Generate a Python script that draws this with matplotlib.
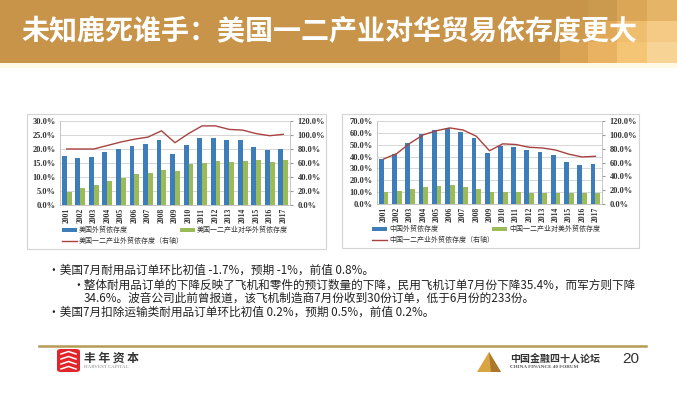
import matplotlib
matplotlib.use("Agg")
import matplotlib.pyplot as plt
from matplotlib.patches import Rectangle, FancyBboxPatch, Polygon
from matplotlib.lines import Line2D

# ---------------- data ----------------
years = ['2001', '2002', '2003', '2004', '2005', '2006', '2007', '2008', '2009',
         '2010', '2011', '2012', '2013', '2014', '2015', '2016', '2017']

us_trade = [17.6, 16.9, 17.3, 18.8, 19.9, 21.1, 21.7, 23.3, 18.2, 21.5, 24.0,
            23.9, 23.3, 23.1, 20.8, 19.6, 20.1]
us_ind_china = [4.8, 6.1, 7.1, 8.5, 9.8, 10.9, 11.6, 12.5, 12.1, 14.6, 15.0,
                15.6, 15.5, 15.8, 16.0, 15.5, 16.2]
us_ind_trade = [80, 80, 80, 85, 90, 94, 97, 106, 89, 102, 113, 113, 108, 107,
                102, 99, 101]

cn_trade = [38.0, 42.5, 51.5, 59.0, 62.5, 64.0, 61.0, 55.5, 43.0, 48.5, 48.0,
            45.5, 43.5, 41.0, 35.5, 32.5, 33.5]
cn_ind_us = [10.0, 11.0, 12.5, 14.0, 15.5, 16.0, 14.5, 12.5, 10.0, 10.5, 10.0,
             9.5, 9.5, 9.5, 9.5, 9.0, 9.5]
cn_ind_trade = [65, 73, 88, 100, 106, 110, 107, 98, 77, 87, 86, 82, 81, 78, 72,
                68, 69]

left_labels = ['美国外贸依存度', '美国一二产业对华外贸依存度', '美国一二产业外贸依存度（右轴）']
right_labels = ['中国外贸依存度', '中国一二产业对美外贸依存度', '中国一二产业外贸依存度（右轴）']

title = '未知鹿死谁手：美国一二产业对华贸易依存度更大'
bullets = [
    '•美国7月耐用品订单环比初值 -1.7%，预期 -1%，前值 0.8%。',
    '•整体耐用品订单的下降反映了飞机和零件的预订数量的下降，民用飞机订单7月份下降35.4%，而军方则下降',
    '34.6%。波音公司此前曾报道，该飞机制造商7月份收到30份订单，低于6月份的233份。',
    '•美国7月扣除运输类耐用品订单环比初值 0.2%，预期 0.5%，前值 0.2%。',
]

# ---------------- style ----------------
W, H = 677, 397
CJK = ['Noto Sans CJK SC', 'DejaVu Sans']
plt.rcParams['font.family'] = CJK
BLUE = '#3C7DBA'
GREEN = '#9BBB59'
RED = '#A8423F'
GOLD = '#C79449'

fig = plt.figure(figsize=(W / 100, H / 100), dpi=100)
fig.patch.set_facecolor('white')


def fx(x):
    return x / W


def fy(y):
    return 1 - y / H


def frect(x0, y0, x1, y1, **kw):
    r = Rectangle((fx(x0), fy(y1)), fx(x1) - fx(x0), fy(y0) - fy(y1),
                  transform=fig.transFigure, **kw)
    fig.add_artist(r)
    return r


# ---------------- banner ----------------
frect(0, 0, W, 63, facecolor=GOLD, edgecolor='none', zorder=0)
deco = [
    (588, 0, 617, 21, '#CC9A4E'), (617, 0, 647, 21, '#DCA657'), (647, 0, 677, 21, '#E6B466'),
    (560, 21, 588, 42, '#D09A4D'), (588, 21, 617, 42, '#E0A958'), (617, 21, 647, 42, '#EEBD6E'),
    (647, 21, 677, 42, '#F4CA84'),
    (560, 42, 588, 63, '#DAA253'), (588, 42, 617, 63, '#E8B262'), (617, 42, 647, 63, '#F3C575'),
    (647, 42, 677, 63, '#F7D495'),
]
for x0, y0, x1, y1, c in deco:
    frect(x0, y0, x1, y1, facecolor=c, edgecolor='none', zorder=0.5)
frect(0, 63, W, 68, facecolor='#FFF8E4', edgecolor='none', zorder=0)

fig.text(fx(21), fy(32), title, color='white', fontsize=20.2, fontweight='bold',
         ha='left', va='center', family=CJK)

# ---------------- chart frames ----------------
frect(27, 114, 326, 249, facecolor='white', edgecolor='#D4D4D4', lw=0.8, zorder=1)
frect(342, 114, 639, 248, facecolor='white', edgecolor='#D4D4D4', lw=0.8, zorder=1)

SERIF = 'Liberation Serif'


def make_chart(rect, bars1, bars2, line, ymax, ystep, labels, leg_x, leg_x2, leg_y1, leg_y2):
    ax = fig.add_axes(rect, zorder=2)
    ax.set_facecolor('none')
    x = list(range(len(years)))
    w = 0.36
    ax.bar([i - w / 2 for i in x], bars1, width=w, color=BLUE, zorder=3)
    ax.bar([i + w / 2 for i in x], bars2, width=w, color=GREEN, zorder=3)
    ax.set_xlim(-0.5, len(years) - 0.5)
    ax.set_ylim(0, ymax)
    yt = [i * ystep for i in range(int(round(ymax / ystep)) + 1)]
    ax.set_yticks(yt)
    ax.set_yticklabels(['%.1f%%' % v for v in yt], fontsize=6, family=SERIF,
                       fontweight='bold', color='#333333')
    ax.set_xticks(x)
    ax.set_xticklabels(years, rotation=90, fontsize=5.5, family=SERIF,
                       fontweight='bold', color='#333333')
    ax.tick_params(axis='y', length=0, pad=3)
    ax.tick_params(axis='x', length=0, pad=2)
    ax.yaxis.grid(True, color='#D0D0D0', lw=0.6)
    ax.set_axisbelow(True)
    for s in ['top', 'right']:
        ax.spines[s].set_visible(False)
    ax.spines['left'].set_color('#BBBBBB')
    ax.spines['left'].set_linewidth(0.6)
    ax.spines['bottom'].set_color('#BBBBBB')
    ax.spines['bottom'].set_linewidth(0.6)

    ax2 = ax.twinx()
    ax2.plot(x, line, color=RED, lw=1.0, zorder=4)
    ax2.set_ylim(0, 120)
    yt2 = list(range(0, 121, 20))
    ax2.set_yticks(yt2)
    ax2.set_yticklabels(['%.1f%%' % v for v in yt2], fontsize=6, family=SERIF,
                        fontweight='bold', color='#333333')
    ax2.tick_params(axis='y', length=2.5, direction='out', color='#999999', pad=3)
    for s in ['top', 'left', 'bottom']:
        ax2.spines[s].set_visible(False)
    ax2.spines['right'].set_color('#BBBBBB')
    ax2.spines['right'].set_linewidth(0.6)

    # legend
    frect(leg_x, leg_y1 - 2, leg_x + 15, leg_y1 + 2, facecolor=BLUE, edgecolor='none', zorder=3)
    fig.text(fx(leg_x + 17), fy(leg_y1), labels[0], fontsize=5, va='center', ha='left',
             color='#333333', zorder=3)
    frect(leg_x2, leg_y1 - 2, leg_x2 + 15, leg_y1 + 2, facecolor=GREEN, edgecolor='none', zorder=3)
    fig.text(fx(leg_x2 + 17), fy(leg_y1), labels[1], fontsize=5, va='center', ha='left',
             color='#333333', zorder=3)
    fig.add_artist(Line2D([fx(leg_x), fx(leg_x + 15)], [fy(leg_y2), fy(leg_y2)],
                          color=RED, lw=1.0, transform=fig.transFigure, zorder=3))
    fig.text(fx(leg_x + 17), fy(leg_y2), labels[2], fontsize=5, va='center', ha='left',
             color='#333333', zorder=3)
    return ax, ax2


make_chart([fx(60), fy(205), 230 / W, 84 / H], us_trade, us_ind_china, us_ind_trade,
           30, 5, left_labels, 62, 180, 230, 241)
make_chart([fx(377), fy(204), 225 / W, 83 / H], cn_trade, cn_ind_us, cn_ind_trade,
           70, 10, right_labels, 372, 492, 229, 240)

# ---------------- body text ----------------
body_pos = [(48, 270), (72, 285), (84, 298), (48, 312)]
for (bx, by), t in zip(body_pos, bullets):
    fig.text(fx(bx), fy(by), t, fontsize=8.4, va='center', ha='left', color='#222222',
             family=CJK)

# ---------------- footer ----------------
fig.add_artist(Line2D([fx(39), fx(646)], [fy(346), fy(346)], color='#B49A52', lw=1.8,
                      transform=fig.transFigure))
logo = FancyBboxPatch((fx(57), fy(372)), fx(80) - fx(57), fy(349) - fy(372),
                      boxstyle='round,pad=0,rounding_size=0.006', transform=fig.transFigure,
                      facecolor='#E0262A', edgecolor='none')
fig.add_artist(logo)
for yy in [354, 359, 364, 369]:
    fig.add_artist(Line2D([fx(61), fx(68.5), fx(76)], [fy(yy), fy(yy - 2.5), fy(yy)],
                          color='white', lw=1.1, transform=fig.transFigure))
fig.text(fx(84), fy(358), '丰 年 资 本', fontsize=8.5, fontweight='bold', va='center',
         ha='left', color='#333333', family=CJK)
fig.text(fx(84), fy(367), 'HARVEST CAPITAL', fontsize=3.6, va='center', ha='left',
         color='#888888', family=SERIF)

fig.add_artist(Polygon([[fx(477), fy(372)], [fx(489), fy(352)], [fx(501), fy(372)]],
                       closed=True, transform=fig.transFigure, facecolor='#D9A441',
                       edgecolor='none'))
fig.add_artist(Polygon([[fx(489), fy(352)], [fx(501), fy(372)], [fx(491), fy(372)]],
                       closed=True, transform=fig.transFigure, facecolor='#A9782A',
                       edgecolor='none'))
fig.text(fx(510), fy(358), '中国金融四十人论坛', fontsize=7.2, fontweight='bold',
         va='center', ha='left', color='#333333', family=CJK)
fig.text(fx(510), fy(367), 'CHINA FINANCE 40 FORUM', fontsize=3.7, fontweight='bold',
         va='center', ha='left', color='#555555', family=SERIF)
fig.text(fx(622), fy(359), '20', fontsize=11, va='center', ha='left', color='#333333',
         family='Liberation Sans')

fig.savefig('out.png', dpi=100, facecolor=fig.get_facecolor())
